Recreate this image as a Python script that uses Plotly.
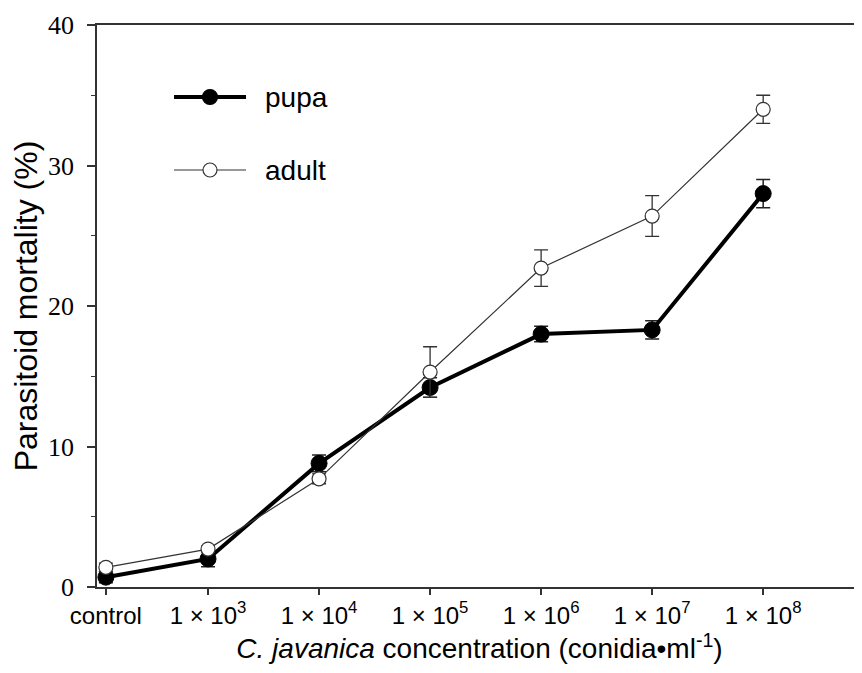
import plotly.graph_objects as go

# ---- data ----
categories = ["control", "1 × 10<sup>3</sup>", "1 × 10<sup>4</sup>", "1 × 10<sup>5</sup>",
              "1 × 10<sup>6</sup>", "1 × 10<sup>7</sup>", "1 × 10<sup>8</sup>"]
log_conc = [2.08, 3, 4, 5, 6, 7, 8]          # x position on log10 concentration scale
pupa = [0.7, 2.0, 8.8, 14.2, 18.0, 18.3, 28.0]
pupa_err = [0.4, 0.55, 0.6, 0.7, 0.55, 0.65, 1.0]
adult = [1.4, 2.7, 7.7, 15.3, 22.7, 26.4, 34.0]
adult_err = [0.3, 0.2, 0.35, 1.8, 1.3, 1.45, 1.0]
y_ticks = [0, 10, 20, 30, 40]

fig = go.Figure()

fig.add_trace(go.Scatter(
    x=log_conc, y=pupa, mode="lines+markers", name="pupa",
    line=dict(color="black", width=4),
    marker=dict(symbol="circle", size=16, color="black", line=dict(color="black", width=1)),
    error_y=dict(type="data", array=pupa_err, visible=True, color="#222", thickness=1.5, width=7),
))
fig.add_trace(go.Scatter(
    x=log_conc, y=adult, mode="lines+markers", name="adult",
    line=dict(color="#333", width=1.2),
    marker=dict(symbol="circle", size=14, color="white", line=dict(color="#333", width=1.2)),
    error_y=dict(type="data", array=adult_err, visible=True, color="#333", thickness=1.3, width=7),
))

# ---- manual legend (long sample lines as in the reference) ----
OFF = 8  # page body margin
L, T, R, B = 89, 17, 0, 86
FW, FH = 854, 665
W = FW - L - R
H = FH - T - B
def px(xp):
    return (xp - OFF - L) / W
def py(yp):
    return 1 - (yp - OFF - T) / H

shapes = []
legend_items = [("pupa", 97, 4, "black", "black", "black", 15), ("adult", 170, 1.2, "#333", "white", "#333", 14)]
annotations = []
for name, ypix, lw, lc, fc, ec, ms in legend_items:
    shapes.append(dict(type="line", xref="paper", yref="paper", x0=px(174), x1=px(246),
                       y0=py(ypix), y1=py(ypix), line=dict(color=lc, width=lw)))
    shapes.append(dict(type="circle", xref="paper", yref="paper", xsizemode="pixel", ysizemode="pixel",
                       xanchor=px(210), yanchor=py(ypix), x0=-ms / 2, x1=ms / 2, y0=-ms / 2, y1=ms / 2,
                       fillcolor=fc, line=dict(color=ec, width=1.2)))
    annotations.append(dict(text=name, xref="paper", yref="paper", x=px(263), y=py(ypix),
                            xanchor="left", yanchor="middle", showarrow=False,
                            font=dict(family="Liberation Sans, Arial", size=28, color="black")))

fig.update_layout(
    width=FW, height=FH,
    margin=dict(l=L, r=R, t=T, b=B),
    plot_bgcolor="white", paper_bgcolor="white",
    showlegend=False,
    shapes=shapes, annotations=annotations,
    xaxis=dict(
        range=[2.0, 8.89], tickmode="array", tickvals=log_conc, ticktext=categories,
        showline=True, linecolor="#333", linewidth=1.5, mirror=True,
        ticks="outside", ticklen=6, tickwidth=1.5, tickcolor="#333",
        showgrid=False, zeroline=False,
        tickfont=dict(family="Liberation Sans, Arial", size=24, color="black"),
        title=dict(text="<i>C. javanica</i> concentration (conidia•ml<sup>-1</sup>)",
                   font=dict(family="Liberation Sans, Arial", size=28, color="black"), standoff=4),
    ),
    yaxis=dict(
        range=[0, 40], tickmode="array", tickvals=y_ticks,
        showline=True, linecolor="#333", linewidth=1.5,
        ticks="outside", ticklen=8, tickwidth=1.5, tickcolor="#333",
        minor=dict(dtick=5, ticks="outside", ticklen=4, tickwidth=1.2, tickcolor="#333", showgrid=False),
        showgrid=False, zeroline=False, ticklabelstandoff=8,
        tickfont=dict(family="Liberation Serif, Times New Roman", size=26, color="black"),
        title=dict(text="Parasitoid mortality (%)",
                   font=dict(family="Liberation Sans, Arial", size=32, color="black"), standoff=6),
    ),
)

fig.write_html("out.html")
